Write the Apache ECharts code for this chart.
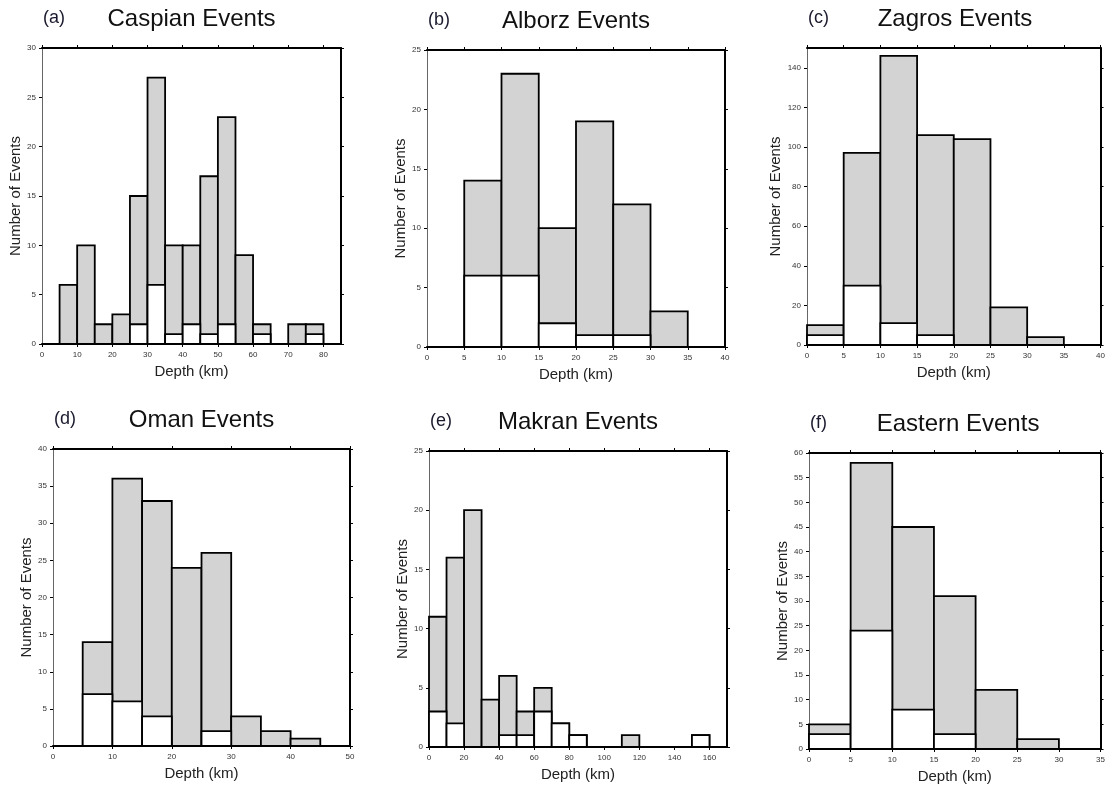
<!DOCTYPE html>
<html>
<head>
<meta charset="utf-8">
<script src="https://cdn.jsdelivr.net/npm/echarts@6/dist/echarts.min.js"></script>
<style>html,body{margin:0;padding:0;background:#fff}#c{width:1108px;height:787px}</style>
</head>
<body>
<div id="c"></div>
<script>
// ---- data (bin start depth in km, total events, white part) ----
const caspianDepth = [5,10,15,20,25,30,35,40,45,50,55,60,70,75];
const caspianAll   = [6,10,2,3,15,27,10,10,17,23,9,2,2,2];
const caspianWhite = [0,0,0,0,2,6,1,2,1,2,0,1,0,1];

const alborzDepth = [5,10,15,20,25,30];
const alborzAll   = [14,23,10,19,12,3];
const alborzWhite = [6,6,2,1,1,0];

const zagrosDepth = [0,5,10,15,20,25,30];
const zagrosAll   = [10,97,146,106,104,19,4];
const zagrosWhite = [5,30,11,5,0,0,0];

const omanDepth = [5,10,15,20,25,30,35,40];
const omanAll   = [14,36,33,24,26,4,2,1];
const omanWhite = [7,6,4,0,2,0,0,0];

const makranDepth = [0,10,20,30,40,50,60,70,80,110,150];
const makranAll   = [11,16,20,4,6,3,5,2,1,1,1];
const makranWhite = [3,2,0,0,1,1,3,2,1,0,1];

const easternDepth = [0,5,10,15,20,25];
const easternAll   = [5,58,45,31,12,2];
const easternWhite = [3,24,8,3,0,0];

// tick labels
const caspianXTicks = [0,10,20,30,40,50,60,70,80];
const caspianYTicks = [0,5,10,15,20,25,30];
const alborzXTicks = [0,5,10,15,20,25,30,35,40];
const alborzYTicks = [0,5,10,15,20,25];
const zagrosXTicks = [0,5,10,15,20,25,30,35,40];
const zagrosYTicks = [0,20,40,60,80,100,120,140];
const omanXTicks = [0,10,20,30,40,50];
const omanYTicks = [0,5,10,15,20,25,30,35,40];
const makranXTicks = [0,20,40,60,80,100,120,140,160];
const makranYTicks = [0,5,10,15,20,25];
const easternXTicks = [0,5,10,15,20,25,30,35];
const easternYTicks = [0,5,10,15,20,25,30,35,40,45,50,55,60];

const panelLetters = ['(a)','(b)','(c)','(d)','(e)','(f)'];
const panelTitles = ['Caspian Events','Alborz Events','Zagros Events','Oman Events','Makran Events','Eastern Events'];
const xName = 'Depth (km)';
const yName = 'Number of Events';

const panels = [
  {depth:caspianDepth, all:caspianAll, white:caspianWhite, bin:5, xMax:85, yMax:30, xt:caspianXTicks, yt:caspianYTicks,
   box:{left:42, top:48, width:299, height:296}},
  {depth:alborzDepth, all:alborzAll, white:alborzWhite, bin:5, xMax:40, yMax:25, xt:alborzXTicks, yt:alborzYTicks,
   box:{left:427, top:50, width:298, height:297}},
  {depth:zagrosDepth, all:zagrosAll, white:zagrosWhite, bin:5, xMax:40, yMax:150, xt:zagrosXTicks, yt:zagrosYTicks,
   box:{left:807, top:48, width:296, height:297}},
  {depth:omanDepth, all:omanAll, white:omanWhite, bin:5, xMax:50, yMax:40, xt:omanXTicks, yt:omanYTicks,
   box:{left:53, top:449, width:297, height:297}},
  {depth:makranDepth, all:makranAll, white:makranWhite, bin:10, xMax:170, yMax:25, xt:makranXTicks, yt:makranYTicks,
   box:{left:429, top:451, width:298, height:296}},
  {depth:easternDepth, all:easternAll, white:easternWhite, bin:5, xMax:35, yMax:60, xt:easternXTicks, yt:easternYTicks,
   box:{left:809, top:453, width:298, height:296}}
];

const FONT = 'Liberation Sans, Arial, Helvetica, sans-serif';
const grids = [], xAxes = [], yAxes = [], series = [], graphics = [];

function rectRender(fill){
  return function(params, api){
    const x0 = api.value(0), x1 = api.value(1), v = api.value(2);
    if (!v) return null;
    const pTop = api.coord([x0, v]);
    const pBot = api.coord([x1, 0]);
    return {
      type:'rect',
      shape:{x:pTop[0], y:pTop[1], width:pBot[0]-pTop[0], height:pBot[1]-pTop[1]},
      style:{fill:fill, stroke:'#000', lineWidth:1.8}
    };
  };
}

panels.forEach((p, i) => {
  grids.push(Object.assign({}, p.box));
  const lbl = {fontSize:8, color:'#333', fontFamily:FONT};
  // bottom x
  xAxes.push({
    type:'value', gridIndex:i, min:0, max:p.xMax, position:'bottom',
    name:xName, nameLocation:'middle', nameGap:20,
    nameTextStyle:{fontSize:15, color:'#222', fontFamily:FONT},
    axisLine:{show:true, onZero:false, lineStyle:{color:'#000', width:2}},
    axisTick:{show:true, inside:false, length:3, customValues:p.xt, lineStyle:{color:'#000', width:1}},
    axisLabel:Object.assign({show:true, margin:7, customValues:p.xt}, lbl),
    splitLine:{show:false}
  });
  // top x (frame)
  xAxes.push({
    type:'value', gridIndex:i, min:0, max:p.xMax, position:'top',
    axisLine:{show:true, onZero:false, lineStyle:{color:'#000', width:2}},
    axisTick:{show:true, inside:false, length:3, customValues:p.xt, lineStyle:{color:'#000', width:1}},
    axisLabel:{show:false}, splitLine:{show:false}
  });
  // left y
  yAxes.push({
    type:'value', gridIndex:i, min:0, max:p.yMax, position:'left',
    name:yName, nameLocation:'middle', nameGap:19, nameRotate:90,
    nameTextStyle:{fontSize:15, color:'#222', fontFamily:FONT},
    axisLine:{show:true, onZero:false, lineStyle:{color:'#666', width:1}},
    axisTick:{show:true, inside:false, length:3, customValues:p.yt, lineStyle:{color:'#000', width:1}},
    axisLabel:Object.assign({show:true, margin:6, customValues:p.yt}, lbl),
    splitLine:{show:false}
  });
  // right y (frame)
  yAxes.push({
    type:'value', gridIndex:i, min:0, max:p.yMax, position:'right',
    axisLine:{show:true, onZero:false, lineStyle:{color:'#000', width:2}},
    axisTick:{show:true, inside:false, length:3, customValues:p.yt, lineStyle:{color:'#000', width:1}},
    axisLabel:{show:false}, splitLine:{show:false}
  });
  const allData = p.depth.map((d, k) => [d, d + p.bin, p.all[k]]);
  const whiteData = p.depth.map((d, k) => [d, d + p.bin, p.white[k]]);
  series.push({
    type:'custom', xAxisIndex:2*i, yAxisIndex:2*i, renderItem:rectRender('#d3d3d3'),
    encode:{x:[0,1], y:2}, data:allData, z:2, silent:true
  });
  series.push({
    type:'custom', xAxisIndex:2*i, yAxisIndex:2*i, renderItem:rectRender('#ffffff'),
    encode:{x:[0,1], y:2}, data:whiteData, z:3, silent:true
  });
  const cx = p.box.left + p.box.width / 2;
  const ty = p.box.top - 41;
  graphics.push({
    type:'text', x:cx, y:ty,
    style:{text:panelTitles[i], fontSize:24, fontFamily:FONT, fill:'#111', align:'center', verticalAlign:'top'}
  });
  graphics.push({
    type:'text', x:p.box.left + 1, y:ty + 2,
    style:{text:panelLetters[i], fontSize:18, fontFamily:FONT, fill:'#1a1a2e', align:'left', verticalAlign:'top'}
  });
});

const chart = echarts.init(document.getElementById('c'), null, {renderer:'canvas'});
chart.setOption({
  animation:false,
  backgroundColor:'#fff',
  grid:grids, xAxis:xAxes, yAxis:yAxes, series:series, graphic:graphics
});
</script>
</body>
</html>
